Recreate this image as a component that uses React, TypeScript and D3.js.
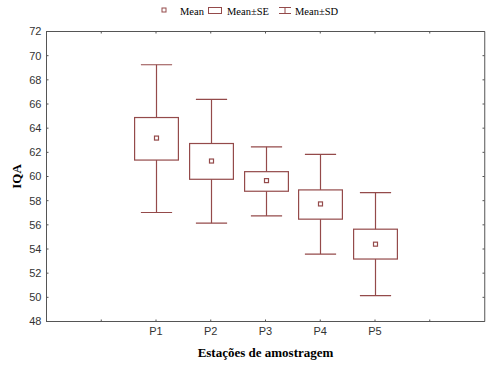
import * as d3 from 'd3';

const width = 500;
const height = 371;
const margin = { top: 31.5, left: 46.5, bottom: 49.5, right: 15.5 };

const categories = ['P1', 'P2', 'P3', 'P4', 'P5'];
const means = [63.18, 61.28, 59.66, 57.73, 54.4];
const seUpper = [64.88, 62.73, 60.4, 58.89, 55.64];
const seLower = [61.36, 59.77, 58.78, 56.47, 53.17];
const sdUpper = [69.25, 66.39, 62.46, 61.83, 58.67];
const sdLower = [57.02, 56.14, 56.74, 53.58, 50.14];
const yTicks = [48, 50, 52, 54, 56, 58, 60, 62, 64, 66, 68, 70, 72];

const markColor = '#944a4a';
const frameColor = '#555';

function App() {
  const x = d3
    .scaleLinear()
    .domain([-2, 6])
    .range([margin.left, width - margin.right]);
  const y = d3
    .scaleLinear()
    .domain([48, 72])
    .range([height - margin.bottom, margin.top]);

  const step = x(1) - x(0);
  const boxW = step * 0.8;
  const capW = step * 0.57;
  const xTicks = d3.range(-1, 6);

  return (
    <svg width={width} height={height} style={{ position: 'absolute', left: 0, top: 0, background: '#fff' }}>
      {/* legend */}
      <g fontFamily="'Liberation Serif', 'Times New Roman', serif" fontSize={10.5} fill="#000">
        <rect x={162} y={8} width={4} height={4} fill="none" stroke={markColor} />
        <text x={180} y={15}>Mean</text>
        <rect x={208.5} y={7.5} width={13} height={6} fill="none" stroke={markColor} />
        <text x={227} y={15}>Mean±SE</text>
        <path d="M279,7.5H291M285,7.5V13.5M279,13.5H291" stroke={markColor} fill="none" />
        <text x={295} y={15}>Mean±SD</text>
      </g>

      {/* frame */}
      <rect
        x={margin.left}
        y={margin.top}
        width={width - margin.left - margin.right}
        height={height - margin.top - margin.bottom}
        fill="none"
        stroke={frameColor}
      />
      <line x1={width - margin.right + 0.5} x2={width - margin.right + 0.5} y1={margin.top} y2={height - margin.bottom} stroke="#aaa" />

      {/* y ticks */}
      {yTicks.map((t) => (
        <g key={t}>
          <line x1={margin.left} x2={margin.left + 2} y1={y(t)} y2={y(t)} stroke={frameColor} />
          <line x1={width - margin.right - 2} x2={width - margin.right} y1={y(t)} y2={y(t)} stroke={frameColor} />
          <text
            x={margin.left - 5}
            y={y(t)}
            dy="0.35em"
            textAnchor="end"
            fontFamily="'Liberation Sans', Arial, sans-serif"
            fontSize={11}
            fill="#333"
          >
            {t}
          </text>
        </g>
      ))}

      {/* x ticks */}
      {xTicks.map((t) => (
        <g key={t}>
          <line x1={x(t)} x2={x(t)} y1={height - margin.bottom} y2={height - margin.bottom - 2} stroke={frameColor} />
          <line x1={x(t)} x2={x(t)} y1={margin.top} y2={margin.top + 2} stroke={frameColor} />
        </g>
      ))}
      {categories.map((c, i) => (
        <text
          key={c}
          x={x(i)}
          y={height - margin.bottom + 13}
          textAnchor="middle"
          fontFamily="'Liberation Sans', Arial, sans-serif"
          fontSize={11}
          fill="#333"
        >
          {c}
        </text>
      ))}

      {/* boxes and whiskers */}
      {categories.map((c, i) => {
        const cx = Math.round(x(i)) + 0.5;
        return (
          <g key={c} stroke={markColor} fill="none" strokeWidth={1.2}>
            <line x1={cx} x2={cx} y1={y(sdUpper[i])} y2={y(seUpper[i])} />
            <line x1={cx} x2={cx} y1={y(seLower[i])} y2={y(sdLower[i])} />
            <line x1={cx - capW / 2} x2={cx + capW / 2} y1={y(sdUpper[i])} y2={y(sdUpper[i])} />
            <line x1={cx - capW / 2} x2={cx + capW / 2} y1={y(sdLower[i])} y2={y(sdLower[i])} />
            <rect
              x={cx - boxW / 2}
              y={y(seUpper[i])}
              width={boxW}
              height={y(seLower[i]) - y(seUpper[i])}
            />
            <rect x={cx - 2} y={y(means[i]) - 2} width={4} height={4} />
          </g>
        );
      })}

      {/* axis titles */}
      <text
        transform={`translate(21, ${(margin.top + height - margin.bottom) / 2}) rotate(-90)`}
        textAnchor="middle"
        fontFamily="'Liberation Serif', 'Times New Roman', serif"
        fontWeight="bold"
        fontSize={13}
      >
        IQA
      </text>
      <text
        x={(margin.left + width - margin.right) / 2}
        y={357}
        textAnchor="middle"
        fontFamily="'Liberation Serif', 'Times New Roman', serif"
        fontWeight="bold"
        fontSize={13}
      >
        Estações de amostragem
      </text>
    </svg>
  );
}

export default App;
